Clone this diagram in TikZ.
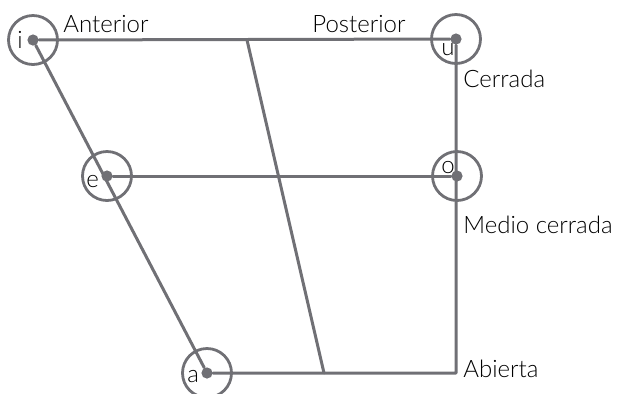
\documentclass[tikz,border=0pt]{standalone}
\usepackage{fontspec}
\setmainfont{Lato Light}
\definecolor{trazo}{RGB}{112,112,117}

\begin{document}
\begin{tikzpicture}[x=0.5pt,y=-0.5pt,line cap=round,line join=round,
	linea/.style={draw=trazo,line width=1.5pt},
	anillo/.style={circle,draw=trazo,line width=1.4pt,minimum size=24.5pt,inner sep=0pt},
	punto/.style={circle,fill=trazo,minimum size=5.6pt,inner sep=0pt},
	rotulo/.style={anchor=base west,inner sep=0pt,font=\fontsize{12}{14}\selectfont}]
	\useasboundingbox (0,0) rectangle (621,393);
	% vocales
	\node[punto] (i) at (33,40) {};
	\node[punto] (u) at (456,39) {};
	\node[punto] (e) at (107,176) {};
	\node[punto] (o) at (457,176) {};
	\node[punto] (a) at (207,373) {};
	\coordinate (esq) at (456,373);
	\coordinate (arr) at (247,40);
	\coordinate (aba) at (324,373);
	% trapecio
	\draw[linea] (i) -- (u) -- (esq) -- (a) -- (i);
	\draw[linea] (e) -- (o);
	\draw[linea] (arr) -- (aba);
	\foreach \v in {i,u,e,o,a}
		\node[anillo] at (\v) {};
	% letras
	\node[rotulo] (li) at (17,48) {i};
	\node[rotulo] (lu) at (441,55) {u};
	\node[rotulo] (le) at (86,187) {e};
	\node[rotulo] (lo) at (441,173) {o};
	\node[rotulo] (la) at (187,382) {a};
	% rotulos
	\node[rotulo] (ant) at (63,32) {Anterior};
	\node[rotulo] (pos) at (312,32) {Posterior};
	\node[rotulo] (cer) at (463,87) {Cerrada};
	\node[rotulo] (med) at (463,233) {Medio cerrada};
	\node[rotulo] (abi) at (463,377) {Abierta};
\end{tikzpicture}
\end{document}
